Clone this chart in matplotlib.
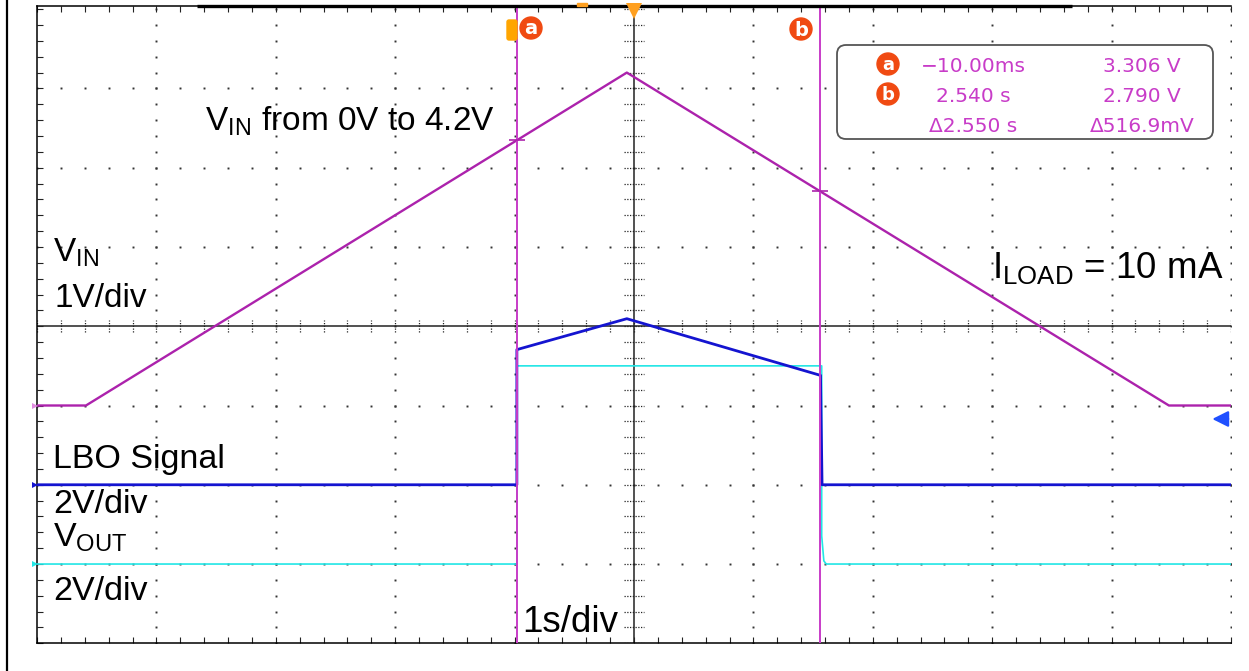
import numpy as np
import matplotlib
matplotlib.use("Agg")
import matplotlib.pyplot as plt
from matplotlib.patches import Circle, FancyBboxPatch, Rectangle
from matplotlib.lines import Line2D
from matplotlib.transforms import Affine2D

# --- screen data (x in s from screen centre, 1 s/div) ---
t_vin = [-5.0, -4.59, -0.06, 4.48, 5.0]
v_vin = [0.0, 0.0, 4.2, 0.0, 0.0]          # V, 1 V/div, ground at -1 div

t_lbo = [-5.0, -0.981, -0.981, -0.06, 1.562, 1.575, 5.0]
v_lbo = [0.0, 0.0, 3.41, 4.19, 2.76, 0.0, 0.0]   # V, 2 V/div, ground at -2 div

t_vout = [-5.0, -0.981, -0.981, 1.572, 1.572, 1.59, 1.61, 5.0]
v_vout = [0.0, 0.0, 5.0, 5.0, 0.71, 0.08, 0.0, 0.0]  # V, 2 V/div, ground at -3 div

cursor_t = [-0.98, 1.555]
cursor_names = ["a", "b"]
readout_time = ["\u221210.00ms", "2.540 s", "\u03942.550 s"]
readout_volt = ["3.306 V", "2.790 V", "\u0394516.9mV"]

W, H = 1249, 671
MAG = "#ac22ac"
CUR = "#c83cc8"
BLUE = "#1414d0"
CYAN = "#22e6e6"
ORANGE = "#f04a12"

plt.rcParams["font.family"] = ["Liberation Sans", "DejaVu Sans"]
plt.rcParams["mathtext.default"] = "regular"

fig = plt.figure(figsize=(W / 100, H / 100), dpi=100)
px = Affine2D().scale(1 / W, -1 / H).translate(0, 1) + fig.transFigure

ax = fig.add_axes([37 / W, 1 - 643.3 / H, 1194 / W, 637.3 / H])
ax.set_xlim(-5, 5)
ax.set_ylim(-4, 4.04)
ax.spines["right"].set_visible(False)
for s in ["left", "top", "bottom"]:
    ax.spines[s].set_linewidth(1.1)
ax.set_xticks(np.arange(-5, 5.01, 0.2))
ax.set_yticks(np.arange(-4, 4.01, 0.2))
ax.tick_params(axis="x", direction="in", length=4, width=0.8, top=True,
               bottom=True, labelbottom=False, color="#222222")
ax.tick_params(axis="y", direction="in", length=4, width=0.8, left=True,
               right=False, labelleft=False, color="#222222")

# dotted graticule
gx, gy = [], []
for x in range(-4, 6):
    if x == 0:
        continue
    ys = np.arange(-4, 4.01, 0.2)
    gx += [x] * len(ys)
    gy += list(ys)
for y in range(-3, 4):
    if y == 0:
        continue
    xs = np.arange(-5, 5.01, 0.2)
    gx += list(xs)
    gy += [y] * len(xs)
ax.plot(gx, gy, ls="none", marker="s", ms=1.4, mew=0, color="#333333", zorder=1)

# centre axes with fine ticks
ax.axhline(0, color="#222222", lw=1.1, zorder=1)
ax.axvline(0, color="#222222", lw=1.1, zorder=1)
ax.vlines(np.arange(-5, 5.01, 0.2), -0.075, 0.075, color="#222222", lw=0.9,
          linestyles=(0, (1, 1.2)), zorder=1)
ax.hlines(np.arange(-4, 4.01, 0.2), -0.085, 0.085, color="#222222", lw=0.9,
          linestyles=(0, (1, 1.2)), zorder=1)

# traces (volts -> divisions)
vin_div = np.array(v_vin) / 1.0 - 1
lbo_div = np.array(v_lbo) / 2.0 - 2
vout_div = np.array(v_vout) / 2.0 - 3
ax.plot(t_vout, vout_div, color=CYAN, lw=1.2, zorder=3)
ax.plot(t_lbo, lbo_div, color=BLUE, lw=2.0, zorder=4)
ax.plot(t_vin, vin_div, color=MAG, lw=1.7, zorder=4)

# cursors drawn over the traces
for t in cursor_t:
    ax.axvline(t, color=CUR, lw=1.4, zorder=4.5)
ax.plot(cursor_t, np.interp(cursor_t, t_vin, vin_div), ls="none", marker="_",
        ms=11, mew=1.2, color=MAG, zorder=5)

# ground markers on the left edge
for yv, c in [(-1, "#e08ce0"), (-2, BLUE), (-3, CYAN)]:
    ax.plot([-5.02], [yv], marker=">", ms=5, color=c, mew=0, clip_on=False, zorder=5)

# trigger level arrow at right
ax.annotate("", xy=(4.82, -1.17), xytext=(5.0, -1.17),
            arrowprops=dict(arrowstyle="-|>", color="#2050ff", lw=1.6,
                            mutation_scale=24), annotation_clip=False)

# top bar and trigger position marker
ax.plot([-3.66, 3.67], [4.04, 4.04], color="black", lw=2.4, clip_on=False,
        solid_capstyle="butt", zorder=6)
ax.plot([0], [3.975], marker="v", ms=12, mew=0, color="#ffa020", clip_on=False, zorder=6)
fig.add_artist(Rectangle((577, 3), 10, 3, transform=px, color="#ffa020"))

# cursor badges
fig.add_artist(FancyBboxPatch((507, 20), 10, 20, boxstyle="round,pad=0,rounding_size=2",
                              transform=px, color="#ffa500"))
for (cx, cy), name in zip([(531, 28), (801, 29)], cursor_names):
    fig.add_artist(Circle((cx, cy), 11, transform=px, color=ORANGE))
    fig.text(cx, cy + 1, name, transform=px, color="white", fontsize=14,
             fontweight="bold", ha="center", va="center", family="DejaVu Sans")

# readout box
fig.add_artist(FancyBboxPatch((837, 45), 376, 94, boxstyle="round,pad=0,rounding_size=9",
                              transform=px, fc="white", ec="#555555", lw=1.3))
for i, name in enumerate(cursor_names):
    cy = 64 + 30 * i
    fig.add_artist(Circle((888, cy), 11, transform=px, color=ORANGE))
    fig.text(888, cy + 1, name, transform=px, color="white", fontsize=13,
             fontweight="bold", ha="center", va="center", family="DejaVu Sans")
for i in range(3):
    yb = 72 + 30 * i
    fig.text(973, yb, readout_time[i], transform=px, color=CUR, fontsize=14.5,
             ha="center", va="baseline", family="DejaVu Sans")
    fig.text(1142, yb, readout_volt[i], transform=px, color=CUR, fontsize=14.5,
             ha="center", va="baseline", family="DejaVu Sans")

# annotations
labels = [
    (205, 131, r"V$_{IN}$ from 0V to 4.2V", 24),
    (53, 262, r"V$_{IN}$", 24),
    (55, 307, "1V/div", 24),
    (992, 278, r"I$_{LOAD}$ = 10 mA", 26.5),
    (53, 468, "LBO Signal", 24.5),
    (53, 513, "2V/div", 24.5),
    (53, 547, r"V$_{OUT}$", 24.5),
    (53, 600, "2V/div", 24.5),
    (522, 632, "1s/div", 26.5),
]
for x, y, s, fs in labels:
    fig.text(x, y, s, transform=px, fontsize=fs, ha="left", va="baseline", color="black")

# page border
fig.add_artist(Line2D([7, 7], [0, H], transform=px, color="black", lw=1.6))

fig.savefig("out.png", dpi=100)
